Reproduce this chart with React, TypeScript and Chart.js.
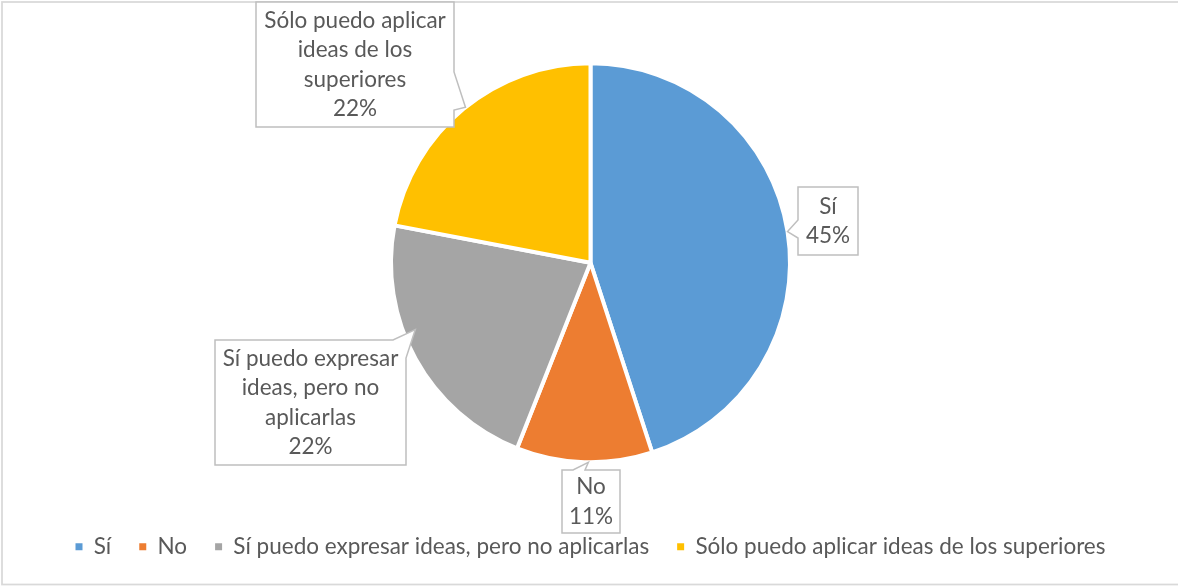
import React, { useEffect, useRef } from "react";
import { Chart, registerables } from "chart.js";

Chart.register(...registerables);

// ---- data ----
const categories = [
  "Sí",
  "No",
  "Sí puedo expresar ideas, pero no aplicarlas",
  "Sólo puedo aplicar ideas de los superiores",
];
const values = [45, 11, 22, 22];
const colors = ["#5B9BD5", "#ED7D31", "#A5A5A5", "#FFC000"];

// ---- styles ----
const FONT = "Lato, 'Open Sans', sans-serif";
const FONT_SIZE = 22.5;
const TEXT = "#595959";
const LINE_H = 29.5;

type Callout = {
  x: number; y: number; w: number; h: number;
  side: "left" | "right" | "top" | "topright";
  a: number; b: number;
  tipFrac: number; tipR: number;
};

const callouts: Callout[] = [
  { x: 798, y: 187, w: 60, h: 68, side: "left", a: 220, b: 238, tipFrac: 0.5, tipR: 1.0 },
  { x: 562, y: 470, w: 58, h: 63, side: "top", a: 573, b: 585, tipFrac: 0.47, tipR: 1.0 },
  { x: 215, y: 340, w: 191, h: 125, side: "topright", a: 393, b: 358, tipFrac: 0.6, tipR: 0.94 },
  { x: 256, y: 2, w: 198, h: 125, side: "right", a: 72, b: 110, tipFrac: 0.51, tipR: 1.0 },
];

function wrap(ctx: CanvasRenderingContext2D, text: string, maxW: number): string[] {
  const words = text.split(" ");
  const lines: string[] = [];
  let cur = "";
  for (const w of words) {
    const t = cur ? cur + " " + w : w;
    if (!cur || ctx.measureText(t).width <= maxW) cur = t;
    else {
      lines.push(cur);
      cur = w;
    }
  }
  if (cur) lines.push(cur);
  return lines;
}

const borderPlugin = {
  id: "outerBorder",
  beforeDraw(chart: any) {
    const ctx = chart.ctx as CanvasRenderingContext2D;
    ctx.save();
    ctx.fillStyle = "#ffffff";
    ctx.fillRect(0, 0, chart.width, chart.height);
    ctx.strokeStyle = "#D9D9D9";
    ctx.lineWidth = 1.75;
    ctx.strokeRect(2, 2, chart.width + 4, 582.5);
    ctx.restore();
  },
};

const calloutPlugin = {
  id: "callouts",
  afterDatasetsDraw(chart: any) {
    const ctx = chart.ctx as CanvasRenderingContext2D;
    const meta = chart.getDatasetMeta(0);
    const data = chart.data.datasets[0].data as number[];
    const total = data.reduce((s, v) => s + v, 0);
    ctx.save();
    ctx.font = `${FONT_SIZE}px ${FONT}`;
    meta.data.forEach((arc: any, i: number) => {
      const c = callouts[i];
      if (!c) return;
      const p = arc.getProps(["x", "y", "startAngle", "endAngle", "outerRadius"], true);
      const ang = p.startAngle + (p.endAngle - p.startAngle) * c.tipFrac;
      const r = p.outerRadius * c.tipR;
      const tx = p.x + Math.cos(ang) * r;
      const ty = p.y + Math.sin(ang) * r;
      const L = c.x, T = c.y, R = c.x + c.w, B = c.y + c.h;
      ctx.beginPath();
      ctx.moveTo(L, T);
      if (c.side === "top") {
        ctx.lineTo(c.a, T); ctx.lineTo(tx, ty); ctx.lineTo(c.b, T);
      }
      if (c.side === "topright") {
        ctx.lineTo(c.a, T); ctx.lineTo(tx, ty); ctx.lineTo(R, c.b);
      } else {
        ctx.lineTo(R, T);
      }
      if (c.side === "right") {
        ctx.lineTo(R, c.a); ctx.lineTo(tx, ty); ctx.lineTo(R, c.b);
      }
      ctx.lineTo(R, B);
      ctx.lineTo(L, B);
      if (c.side === "left") {
        ctx.lineTo(L, c.b); ctx.lineTo(tx, ty); ctx.lineTo(L, c.a);
      }
      ctx.closePath();
      ctx.fillStyle = "#ffffff";
      ctx.fill();
      ctx.strokeStyle = "#BFBFBF";
      ctx.lineWidth = 1.5;
      ctx.stroke();

      const lines = wrap(ctx, String(chart.data.labels[i]), c.w - 6);
      lines.push(Math.round((data[i] / total) * 100) + "%");
      ctx.fillStyle = TEXT;
      ctx.textAlign = "center";
      ctx.textBaseline = "middle";
      const cy = c.y + c.h / 2;
      lines.forEach((ln, k) => {
        ctx.fillText(ln, c.x + c.w / 2, cy + (k - (lines.length - 1) / 2) * LINE_H);
      });
    });
    ctx.restore();
  },
};

export default function App() {
  const ref = useRef<HTMLCanvasElement | null>(null);
  useEffect(() => {
    if (!ref.current) return;
    const chart = new Chart(ref.current, {
      type: "pie",
      data: {
        labels: categories,
        datasets: [
          {
            data: values,
            backgroundColor: colors,
            borderColor: "#ffffff",
            borderWidth: 4,
            radius: 199.5,
          } as any,
        ],
      },
      options: {
        responsive: false,
        animation: false,
        devicePixelRatio: 1,
        layout: { padding: { top: 18, bottom: 18, left: 3, right: 0 } },
        plugins: {
          tooltip: { enabled: false },
          legend: {
            position: "bottom",
            labels: {
              color: TEXT,
              font: { family: FONT, size: FONT_SIZE },
              boxWidth: 7,
              boxHeight: 7,
              padding: 28,
              generateLabels: (ch: any) =>
                (ch.data.labels as string[]).map((t, i) => ({
                  text: t,
                  fillStyle: colors[i],
                  strokeStyle: colors[i],
                  lineWidth: 0,
                  hidden: false,
                  index: i,
                  fontColor: TEXT,
                })),
            },
          },
        },
      },
      plugins: [borderPlugin, calloutPlugin],
    });
    return () => chart.destroy();
  }, []);
  return (
    <div style={{ position: "fixed", left: 0, top: 0, width: 1178, height: 586 }}>
      <canvas ref={ref} width={1178} height={586} />
    </div>
  );
}
